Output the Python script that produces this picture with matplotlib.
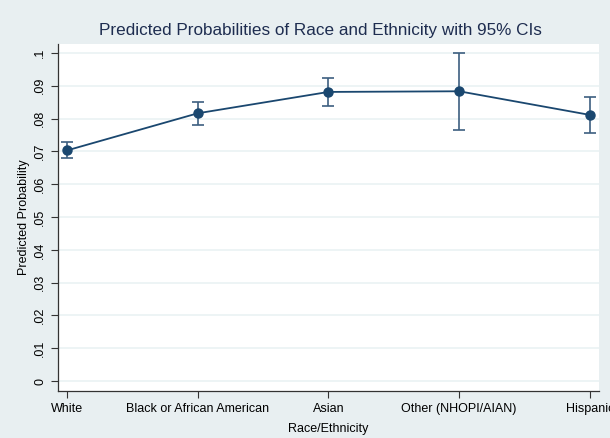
import matplotlib.pyplot as plt
import numpy as np

plt.rcParams['font.family'] = ['Liberation Sans', 'DejaVu Sans']

# categories and predicted probabilities
groups = ['White', 'Black or African American', 'Asian', 'Other (NHOPI/AIAN)', 'Hispanic']
prob = [0.0703, 0.0816, 0.0881, 0.0883, 0.0811]
ci_low = [0.0680, 0.0779, 0.0839, 0.0765, 0.0756]
ci_high = [0.0728, 0.0851, 0.0924, 0.1000, 0.0866]
yticks = [0, 0.01, 0.02, 0.03, 0.04, 0.05, 0.06, 0.07, 0.08, 0.09, 0.1]
ylabels = ['0', '.01', '.02', '.03', '.04', '.05', '.06', '.07', '.08', '.09', '.1']

navy = '#1a476f'
bg = '#e8eff1'

fig = plt.figure(figsize=(6.1, 4.38), dpi=100, facecolor=bg)
ax = fig.add_axes([58/610, 1 - 391/438, (599-58)/610, (391-44)/438])
ax.set_facecolor('white')

x = np.arange(len(groups))
err = [np.array(prob) - np.array(ci_low), np.array(ci_high) - np.array(prob)]
ax.errorbar(x, prob, yerr=err, color=navy, ecolor='#3d5f80', elinewidth=1.2,
            capsize=4, capthick=1.2, lw=1.3, marker='o', ms=6.5, mfc=navy, mec=navy)

ax.set_xlim(-0.07, 4.07)
ax.set_ylim(-0.003, 0.1027)
ax.set_yticks(yticks)
ax.set_yticklabels(ylabels, rotation=90, va='center')
ax.set_xticks(x)
ax.set_xticklabels(groups)
ax.grid(axis='y', color='#eaf2f3', lw=1.2)
ax.set_axisbelow(True)
for s in ['top', 'right']:
    ax.spines[s].set_visible(False)
for s in ['left', 'bottom']:
    ax.spines[s].set_color('#333333')
    ax.spines[s].set_linewidth(0.9)
ax.tick_params(colors='#333333', labelcolor='black', labelsize=9, length=5, width=0.8)

ax.set_ylabel('Predicted Probability', fontsize=9, labelpad=3)
ax.set_xlabel('Race/Ethnicity', fontsize=9, labelpad=6)
fig.text(320/610, 1 - 30/438, 'Predicted Probabilities of Race and Ethnicity with 95% CIs',
         ha='center', va='center', fontsize=12.3, color='#1e2d50')

fig.savefig('out.png', dpi=100, facecolor=bg)
